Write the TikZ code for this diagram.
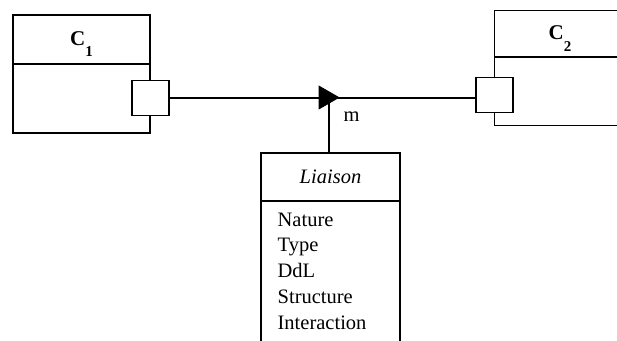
\documentclass[tikz,border=0pt]{standalone}
\usepackage{fontspec}
\setmainfont{Liberation Serif}
\begin{document}
\begin{tikzpicture}[x=1pt,y=-1pt,line width=1.3pt,
  box/.style={draw,rectangle,inner sep=0pt,outer sep=0pt},
  port/.style={draw,fill=white,rectangle,inner sep=0pt,outer sep=0pt,minimum width=37pt,minimum height=35.5pt},
  lbl/.style={inner sep=0pt,font=\fontsize{21}{21}\selectfont\bfseries},
  txt/.style={inner sep=0pt,font=\fontsize{20.5}{25}\selectfont}]
\useasboundingbox (0,0) rectangle (617,340);
\clip (0,0) rectangle (617,340);
% C1
\node[box,minimum width=137pt,minimum height=118pt] (c1) at (81.5,74) {};
\draw (13,64) -- (150,64);
\node[lbl,anchor=base] (c1l) at (81.5,45) {C\raisebox{-11pt}{\fontsize{15}{15}\selectfont 1}};
\node[port] (p1) at (150.5,98) {};
% C2
\node[box,minimum width=200pt,minimum height=114.5pt,anchor=north west] (c2) at (494.3,10.7) {};
\draw (494.3,57) -- (700,57);
\node[lbl,anchor=base] (c2l) at (560,39) {C\raisebox{-12pt}{\fontsize{15}{15}\selectfont 2}};
\node[port] (p2) at (494.5,95) {};
% Liaison
\node[box,minimum width=139pt,minimum height=200pt,anchor=north west] (li) at (261,153) {};
\draw (261,201) -- (400,201);
\node[txt,anchor=base,font=\fontsize{20.5}{25}\selectfont\itshape] (lin) at (330.5,183) {Liaison};
\node[txt,anchor=base west] (a1) at (277,226) {Nature};
\node[txt,anchor=base west] (a2) at (277,251.75) {Type};
\node[txt,anchor=base west] (a3) at (277,277.5) {DdL};
\node[txt,anchor=base west] (a4) at (277,303.25) {Structure};
\node[txt,anchor=base west] (a5) at (277,329) {Interaction};
% connectors
\coordinate (m) at (329,98);
\draw (p1.east) -- (p1.east -| p2.west);
\draw (li.north -| m) -- (m);
\draw[fill=black,line width=0.6pt] (319,86) -- (339,97.5) -- (319,109) -- cycle;
\node[txt,anchor=base west] (ml) at (343,121) {m};
\end{tikzpicture}
\end{document}
